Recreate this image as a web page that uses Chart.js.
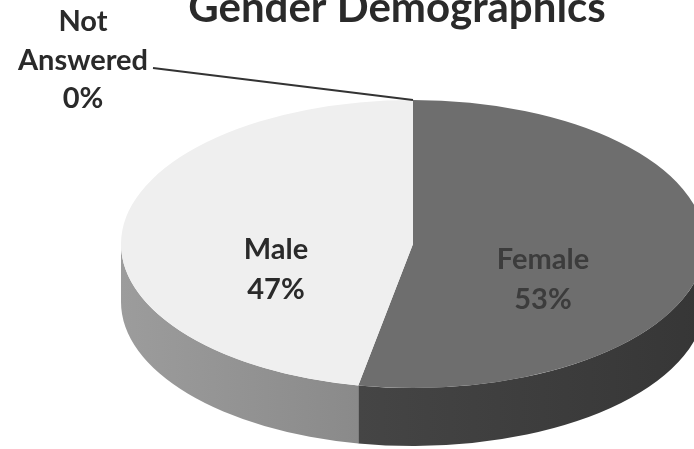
<!DOCTYPE html>
<html><head><meta charset="utf-8">
<script src="https://cdn.jsdelivr.net/npm/chart.js@4"></script>
<style>html,body{margin:0;padding:0;background:#fff}#w{width:694px;height:449px;overflow:hidden}</style>
</head><body><div id="w"><canvas id="c" width="694" height="449"></canvas></div>
<script>
const titleText = "Gender Demographics";
const categories = ["Female", "Male", "Not Answered"];
const values = [53, 47, 0];
const topColors = ["#6e6e6e", "#efefef", "#bdbdbd"];
const wallColors = [["#454545", "#363636"], ["#9c9c9c", "#8a8a8a"], ["#888888", "#888888"]];
const labelColors = ["#3c3c3c", "#2a2a2a", "#2a2a2a"];
const labelLines = [["Female", "53%"], ["Male", "47%"], ["Not", "Answered", "0%"]];
const labelAnchors = [[543, 260], [276, 250], [83, 22]];
const lineGaps = [40, 40, 38.5];
const depth = 58;
const stretch = 292 / 144;

const tilt = {
  id: "tilt",
  beforeDatasetsDraw(chart) {
    const ctx = chart.ctx, arcs = chart.getDatasetMeta(0).data;
    const a0 = arcs[0];
    ctx.save();
    ctx.translate(a0.x, a0.y);
    ctx.scale(stretch, 1);
    ctx.translate(-a0.x, -a0.y);
    arcs.forEach((arc, i) => {
      const s = Math.max(arc.startAngle, 0), e = Math.min(arc.endAngle, Math.PI);
      if (e <= s) return;
      const r = arc.outerRadius;
      const x1 = arc.x + r * Math.cos(s), x2 = arc.x + r * Math.cos(e);
      const g = ctx.createLinearGradient(Math.min(x1, x2), 0, Math.max(x1, x2), 0);
      g.addColorStop(0, wallColors[i][0]);
      g.addColorStop(1, wallColors[i][1]);
      ctx.beginPath();
      ctx.arc(arc.x, arc.y, r, s, e);
      ctx.arc(arc.x, arc.y + depth, r, e, s, true);
      ctx.closePath();
      ctx.fillStyle = g;
      ctx.fill();
    });
  },
  afterDatasetsDraw(chart) {
    const ctx = chart.ctx, arcs = chart.getDatasetMeta(0).data;
    ctx.restore();
    const a0 = arcs[0];
    const px = a0.x, py = a0.y - a0.outerRadius;
    ctx.save();
    ctx.strokeStyle = "#333333";
    ctx.lineWidth = 2;
    ctx.beginPath();
    ctx.moveTo(153, 68);
    ctx.lineTo(px, py);
    ctx.stroke();
    ctx.textAlign = "center";
    ctx.textBaseline = "middle";
    ctx.fillStyle = "#2a2a2a";
    ctx.font = "bold 42px Lato";
    ctx.fillText(titleText, 397, 8);
    ctx.font = "bold 29px Lato";
    labelLines.forEach((lines, i) => {
      ctx.fillStyle = labelColors[i];
      lines.forEach((t, j) => ctx.fillText(t, labelAnchors[i][0], labelAnchors[i][1] + j * lineGaps[i]));
    });
    ctx.restore();
  }
};

new Chart(document.getElementById("c"), {
  type: "pie",
  data: { labels: categories, datasets: [{ data: values, backgroundColor: topColors, borderWidth: 0, clip: false }] },
  options: {
    responsive: false,
    animation: false,
    layout: { padding: { left: 269, right: 137, top: 100, bottom: 61 } },
    plugins: { legend: { display: false }, title: { display: false }, tooltip: { enabled: false } }
  },
  plugins: [tilt]
});
</script></body></html>
